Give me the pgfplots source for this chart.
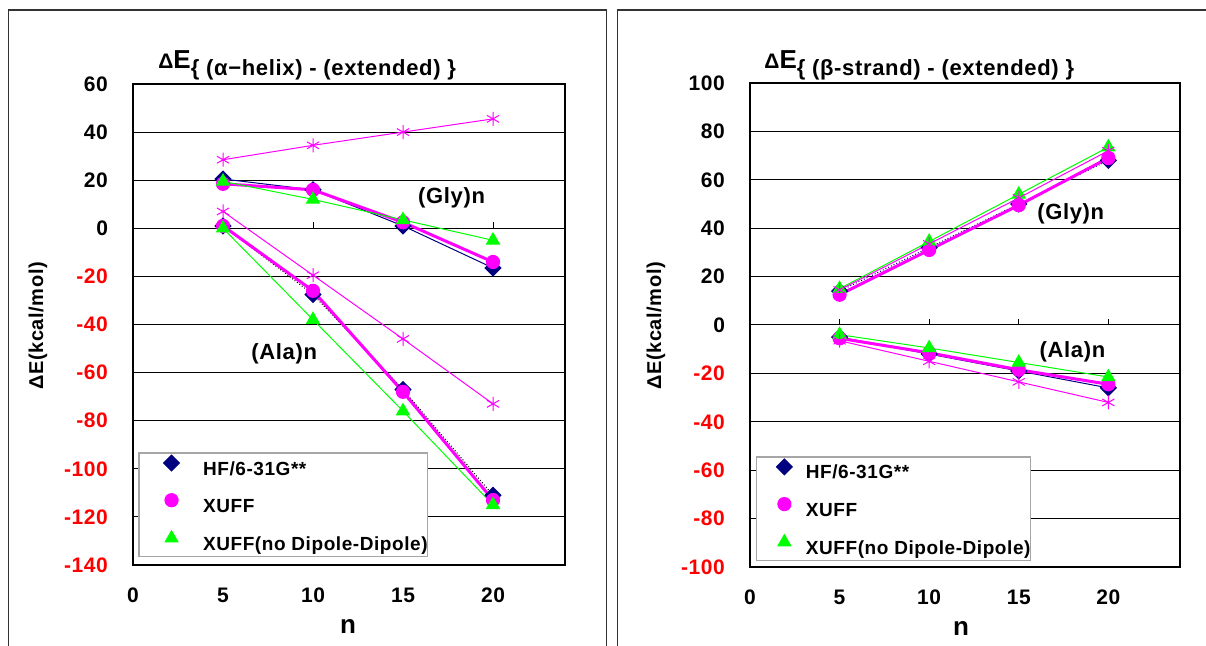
\documentclass[border=0pt]{standalone}
\usepackage{pgfplots}
\pgfplotsset{compat=1.18}
\usepackage{fontspec}
\setmainfont{Liberation Sans}[LetterSpace=3]

\definecolor{hfnavy}{RGB}{0,0,128}
\definecolor{xmag}{RGB}{255,0,255}
\definecolor{xgreen}{RGB}{0,255,0}
\definecolor{negred}{RGB}{255,0,0}

\pgfplotsset{
  panel/.style={
    scale only axis,
    xmin=0, xmax=24,
    xtick={0,5,10,15,20}, xticklabels={0,5,10,15,20},
    major tick length=0pt,
    axis line style={line width=1.3pt},
    ymajorgrids, grid style={black, line width=0.5pt},
    tick label style={font=\bfseries\fontsize{10.5}{12}\selectfont},
    yticklabel style={xshift=-9pt},
    xticklabel style={yshift=-8pt},
    legend style={anchor=south west,
      draw=gray!70, line width=0.6pt, fill=white, outer sep=0pt,
      inner xsep=0pt, inner ysep=1pt, /tikz/row sep=7pt,
      font=\bfseries\fontsize{9.5}{12}\selectfont,
      nodes={inner sep=0pt, text height=7.3pt, text depth=2.3pt},
      cells={anchor=west}},
  },
  % legend image: total width #1, marker centre at #2
  legimg/.style 2 args={legend image code/.code={\path (0pt,0pt) (#1,0pt);
      \draw[##1,/tikz/only marks] plot coordinates {(#2,3.5pt)};}},
  hf/.style={hfnavy, line width=0.5pt, mark=square*, mark size=2.8pt,
    mark options={rotate=45, solid, draw=hfnavy, fill=hfnavy}},
  xuff/.style={xmag, line width=1.5pt, mark=*, mark size=3.3pt,
    mark options={solid, line width=0.5pt, fill=xmag}},
  nodd/.style={xgreen, line width=0.5pt, mark=triangle*, mark size=3.7pt,
    mark options={solid, fill=xgreen}},
  star/.style={xmag, line width=0.5pt, mark=asterisk, mark size=3.5pt,
    mark options={solid}},
}

\begin{document}
\begin{tikzpicture}[x=0.5pt, y=0.5pt]
\path[use as bounding box] (0,0) rectangle (1206,646);
\draw[line width=0.6pt, black!80] (8.5,-20) rectangle (606.5,636);
\draw[line width=0.6pt, black!80] (617.5,-20) rectangle (1230,636);
\coordinate (LA) at (133,81);
\coordinate (RA) at (750,79);

% left panel: alpha-helix
\begin{axis}[panel, at={(LA)}, anchor=south west,
  width=216pt, height=240.5pt,
  ymin=-140, ymax=60,
  ytick={-140,-120,-100,-80,-60,-40,-20,0,20,40,60},
  yticklabels={\textcolor{negred}{-140},\textcolor{negred}{-120},\textcolor{negred}{-100},
    \textcolor{negred}{-80},\textcolor{negred}{-60},\textcolor{negred}{-40},\textcolor{negred}{-20},
    0,20,40,60},
  legimg={30.5pt}{15.5pt},
  legend style={at={(rel axis cs:0.014,0.017)}},
]
\pgfplotsinvokeforeach{5,10,15,20}{\draw[black, line width=0.5pt] (axis cs:#1,0) -- ++(0pt,3pt);}
\addplot[hf, forget plot] coordinates {(5,20.5)(10,16)(15,1)(20,-16.5)};
\addplot[hf, black, densely dotted, forget plot] coordinates {(5,1)(10,-27.5)(15,-67)(20,-111)};
\addplot[xuff, forget plot] coordinates {(5,18.5)(10,16)(15,2.5)(20,-14)};
\addplot[xuff, forget plot] coordinates {(5,1)(10,-26)(15,-68)(20,-113)};
\addplot[nodd, forget plot] coordinates {(5,19.5)(10,12)(15,3.5)(20,-5)};
\addplot[nodd, forget plot] coordinates {(5,0)(10,-38)(15,-76)(20,-115)};
\addplot[star, forget plot] coordinates {(5,28.5)(10,34.5)(15,40)(20,45.5)};
\addplot[star, forget plot] coordinates {(5,7)(10,-19.5)(15,-46)(20,-73)};
\addlegendimage{hf}\addlegendentry{HF/6-31G**}
\addlegendimage{xuff}\addlegendentry{XUFF}
\addlegendimage{nodd}\addlegendentry{XUFF(no Dipole-Dipole)\hspace{4pt}}
\node[font=\bfseries\fontsize{11}{12}\selectfont] at (axis cs:17.7,12.6) {(Gly)n};
\node[font=\bfseries\fontsize{11}{12}\selectfont] at (axis cs:8.4,-52) {(Ala)n};
\end{axis}

% right panel: beta-strand
\begin{axis}[panel, at={(RA)}, anchor=south west,
  width=215pt, height=242pt,
  ymin=-100, ymax=100,
  ytick={-100,-80,-60,-40,-20,0,20,40,60,80,100},
  yticklabels={\textcolor{negred}{-100},\textcolor{negred}{-80},\textcolor{negred}{-60},
    \textcolor{negred}{-40},\textcolor{negred}{-20},0,20,40,60,80,100},
  legimg={23pt}{13pt},
  legend style={at={(rel axis cs:0.016,0.013)}},
]
\pgfplotsinvokeforeach{5,10,15,20}{\draw[black, line width=0.5pt] (axis cs:#1,0) -- ++(0pt,3pt);}
\addplot[hf, densely dotted, forget plot] coordinates {(5,14)(10,32)(15,50)(20,68)};
\addplot[hf, forget plot] coordinates {(5,-5)(10,-12)(15,-19)(20,-26)};
\addplot[xuff, forget plot] coordinates {(5,12.5)(10,31)(15,49.5)(20,69)};
\addplot[xuff, forget plot] coordinates {(5,-5.5)(10,-11.5)(15,-18.5)(20,-24.5)};
\addplot[nodd, forget plot] coordinates {(5,15)(10,34.5)(15,54)(20,73.5)};
\addplot[nodd, forget plot] coordinates {(5,-4)(10,-9.5)(15,-15.5)(20,-21.5)};
\addplot[star, forget plot] coordinates {(5,14.5)(10,33.5)(15,52.5)(20,72)};
\addplot[star, forget plot] coordinates {(5,-6.5)(10,-15)(15,-23.5)(20,-32)};
\addlegendimage{hf}\addlegendentry{HF/6-31G**}
\addlegendimage{xuff}\addlegendentry{XUFF}
\addlegendimage{nodd}\addlegendentry{XUFF(no Dipole-Dipole)\hspace{6pt}}
\node[font=\bfseries\fontsize{11}{12}\selectfont] at (axis cs:17.9,45.8) {(Gly)n};
\node[font=\bfseries\fontsize{11}{12}\selectfont] at (axis cs:18.0,-11.2) {(Ala)n};
\end{axis}

% titles and axis labels
\node[anchor=base west, inner sep=0pt, font=\bfseries] at (158,577)
  {{\fontsize{10.5}{12}\selectfont Δ}{\fontsize{13}{14}\selectfont E}{\fontsize{11}{12}\selectfont\raisebox{-3.5pt}{\{ (α−helix) - (extended) \}}}};
\node[anchor=base west, inner sep=0pt, font=\bfseries] at (764,577)
  {{\fontsize{10.5}{12}\selectfont Δ}{\fontsize{13}{14}\selectfont E}{\fontsize{11}{12}\selectfont\raisebox{-3.5pt}{\{ (β-strand) - (extended) \}}}};
\node[rotate=90, font=\bfseries\fontsize{10}{12}\selectfont] at (38,320) {ΔE(kcal/mol)};
\node[rotate=90, font=\bfseries\fontsize{10}{12}\selectfont] at (656,320) {ΔE(kcal/mol)};
\node[font=\bfseries\fontsize{13}{15}\selectfont] at (348,19) {n};
\node[font=\bfseries\fontsize{13}{15}\selectfont] at (961,17) {n};
\end{tikzpicture}
\end{document}
